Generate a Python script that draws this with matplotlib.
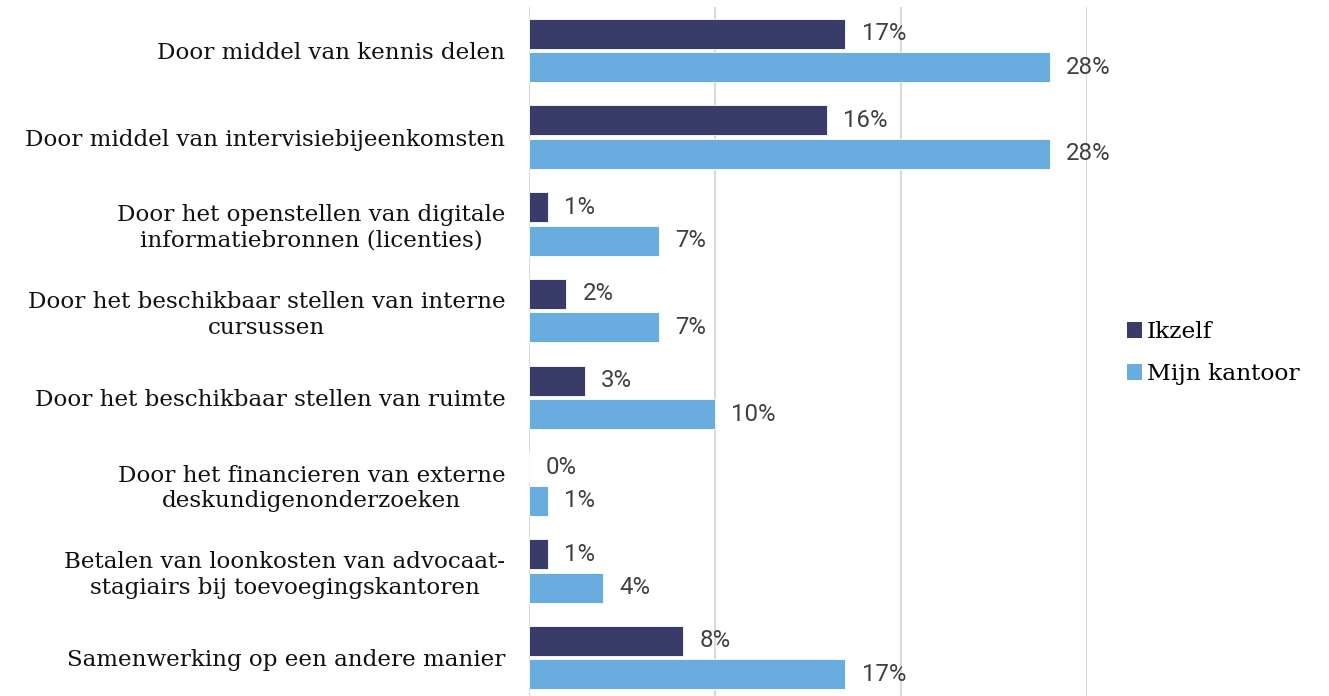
import numpy as np
import matplotlib
matplotlib.use('Agg')
import matplotlib.pyplot as plt
from matplotlib.patches import Patch

#%% Data
categories = [
    'Door middel van kennis delen',
    'Door middel van intervisiebijeenkomsten',
    'Door het openstellen van digitale\ninformatiebronnen (licenties)',
    'Door het beschikbaar stellen van interne\ncursussen',
    'Door het beschikbaar stellen van ruimte',
    'Door het financieren van externe\ndeskundigenonderzoeken',
    'Betalen van loonkosten van advocaat-\nstagiairs bij toevoegingskantoren',
    'Samenwerking op een andere manier',
]
ikzelf = [17, 16, 1, 2, 3, 0, 1, 8.3]
kantoor = [28, 28, 7, 7, 10, 1, 4, 17]
series_names = ['Ikzelf', 'Mijn kantoor']

c_dark = '#393C69'
c_light = '#69ACDF'

#%% Plot
fig = plt.figure(figsize=(13.29, 6.96), dpi=100)
ax = fig.add_axes([529/1329, -5/696, 558/1329, 694/696])

y = np.arange(len(categories))
h = 0.345
ax.barh(y - h/2 - 0.02, ikzelf, height=h, color=c_dark, edgecolor='white', linewidth=0.6, zorder=3)
ax.barh(y + h/2 + 0.02, kantoor, height=h, color=c_light, edgecolor='white', linewidth=0.6, zorder=3)

for yi, v in zip(y, ikzelf):
    ax.text(v + 0.88, yi - h/2 - 0.02, f'{v:.0f}%', va='center', ha='left',
            fontsize=17.3, color='#404040', family='Roboto')
for yi, v in zip(y, kantoor):
    ax.text(v + 0.88, yi + h/2 + 0.02, f'{v:.0f}%', va='center', ha='left',
            fontsize=17.3, color='#404040', family='Roboto')

ax.set_xlim(0, 30)
ax.set_ylim(len(categories) - 0.5, -0.5)
ax.set_xticks([0, 10, 20, 30])
ax.xaxis.grid(True, color='#D9D9D9', linewidth=1.5, zorder=0)
ax.tick_params(axis='x', length=0, labelbottom=False)
ax.tick_params(axis='y', length=0, pad=17)
ax.set_yticks(y)
ax.set_yticklabels(categories, fontsize=16.6, family='DejaVu Serif', color='#111111',
                   multialignment='center')
for s in ax.spines.values():
    s.set_visible(False)

handles = [Patch(facecolor=c_dark), Patch(facecolor=c_light)]
fig.legend(handles, series_names, loc='center left', bbox_to_anchor=(1106/1329, 1 - 353/696),
           frameon=False, handlelength=0.65, handleheight=0.65, handletextpad=0.2,
           labelspacing=0.85, prop={'family': 'DejaVu Serif', 'size': 16.8})

fig.savefig('out.png', dpi=100)
